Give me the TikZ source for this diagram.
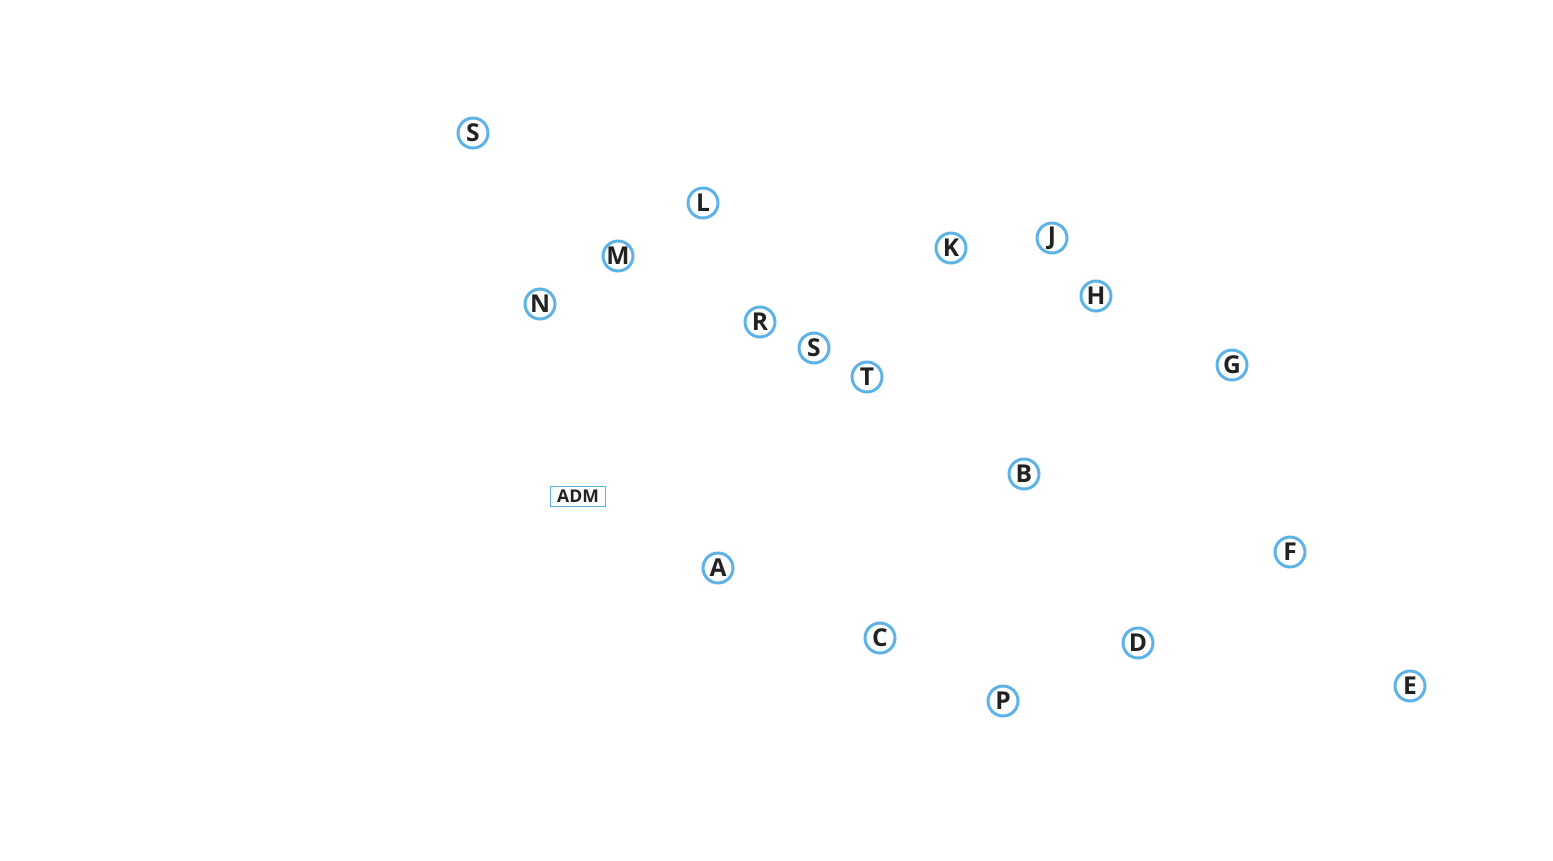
\documentclass[tikz,border=0pt]{standalone}
\usepackage{fontspec}
\setmainfont{Open Sans}
\definecolor{ringblue}{RGB}{93,178,230}
\definecolor{ink}{RGB}{34,34,34}
\tikzset{
  stop/.style={draw=ringblue, circle, line width=1.7pt, fill=white, minimum size=0.6cm, inner sep=0pt,
    text=ink, font=\fontsize{14}{14}\selectfont\bfseries},
  tag/.style={draw=ringblue, rectangle, line width=0.5pt, minimum width=1.1cm, minimum height=0.4cm, inner sep=1pt,
    text=ink, font=\fontsize{10}{10}\selectfont\bfseries}
}
\begin{document}
\begin{tikzpicture}[x=0.02cm, y=-0.02cm]
            \useasboundingbox (0, 0) rectangle (1553, 860);
            \draw
                (473, 133) node (s1) [stop] {S}
                (703, 203) node (l) [stop] {L}
                (618, 256) node (m) [stop] {M}
                (540, 304) node (n) [stop] {N}
                (760, 322) node (r) [stop] {R}
                (814, 348) node (s2) [stop] {S}
                (867, 377) node (t) [stop] {T}
                (951, 248) node (k) [stop] {K}
                (1052, 238) node (j) [stop] {J}
                (1096, 296) node (h) [stop] {H}
                (1232, 365) node (g) [stop] {G}
                (1024, 474) node (b) [stop] {B}
                (1290, 552) node (f) [stop] {F}
                (718, 568) node (a) [stop] {A}
                (880, 638) node (c) [stop] {C}
                (1138, 643) node (d) [stop] {D}
                (1410, 686) node (e) [stop] {E}
                (1003, 701) node (p) [stop] {P}

                (578, 496) node (adm) [tag] {ADM}
            ;
        \end{tikzpicture}
\end{document}
